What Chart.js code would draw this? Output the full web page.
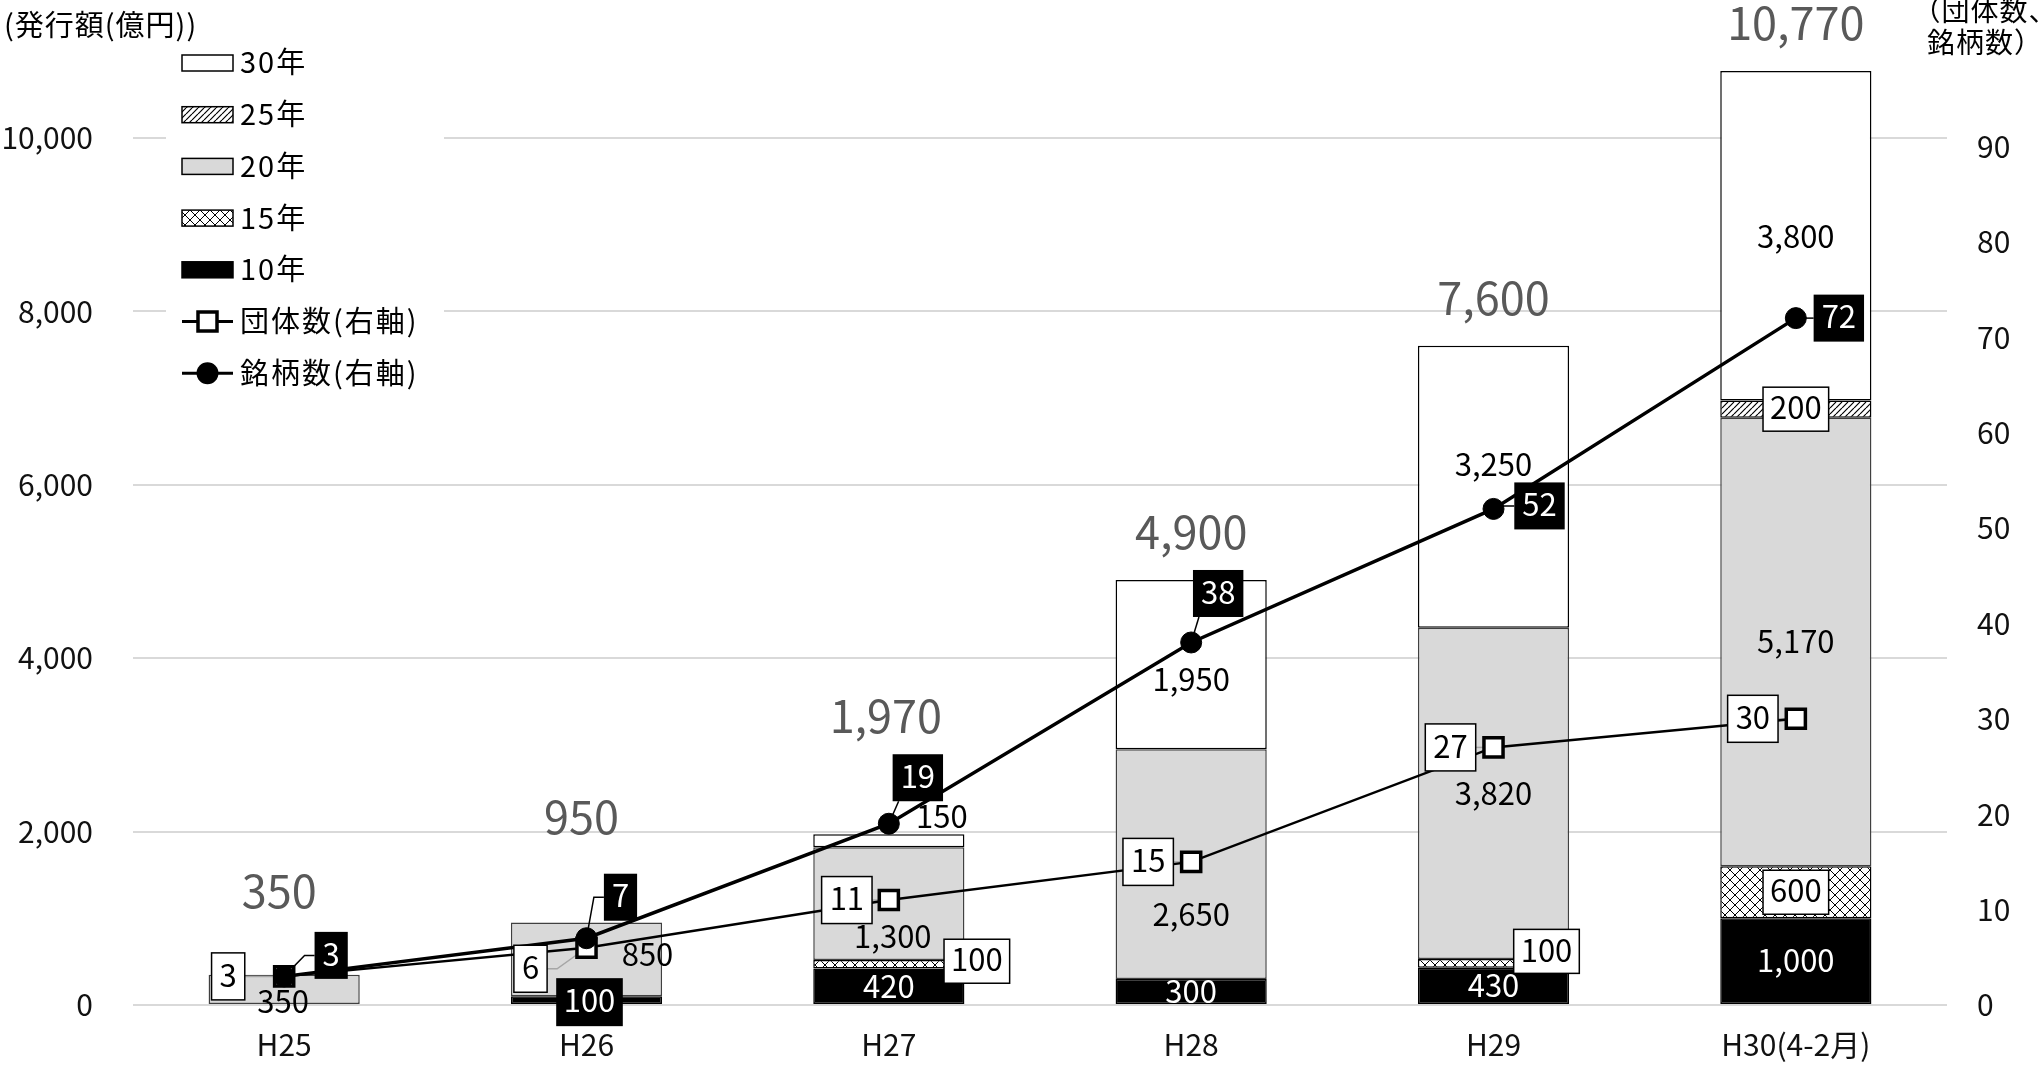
<!DOCTYPE html>
<html lang="ja">
<head>
<meta charset="utf-8">
<title>発行額・団体数・銘柄数の推移</title>
<script src="https://cdn.jsdelivr.net/npm/chart.js@4.4.1/dist/chart.umd.min.js"></script>
<style>
    html, body { margin: 0; padding: 0; background: #fff; }
    #chart { display: block; }
</style>
</head>
<body>
<canvas id="chart" width="2039" height="1065"></canvas>
<script>
const FONT = '"Noto Sans CJK JP", "Noto Sans", sans-serif';

const categories = ["H25", "H26", "H27", "H28", "H29", "H30(4-2月)"];

// 発行額（億円）by maturity
const yen10 = [null, 100, 420, 300, 430, 1000];
const yen15 = [null, null, 100, null, 100, 600];
const yen20 = [350, 850, 1300, 2650, 3820, 5170];
const yen25 = [null, null, null, null, null, 200];
const yen30 = [null, null, 150, 1950, 3250, 3800];

// counts, right axis
const issuerCount = [3, 6, 11, 15, 27, 30];
const issueCount = [3, 7, 19, 38, 52, 72];

const amountTicks = [0, 2000, 4000, 6000, 8000, 10000];
const countTicks = [0, 10, 20, 30, 40, 50, 60, 70, 80, 90];

// label nudges in px: [dx, dy, box]  box: 0 plain, 1 white box, 2 black box
const tags10 = [null, [3, 2, 2], [0, 1, 0], [0, 1, 0], [0, 1, 0], [0, 1, 0]];
const tags15 = [null, null, [88, -3, 1], null, [53, -12, 1], [0, 0, 1]];
const tags20 = [[-1, 13, 0], [61, -4, 0], [4, 34, 0], [0, 52, 0], [0, 1, 0], [0, 1, 0]];
const tags25 = [null, null, null, null, null, [0, 0, 1]];
const tags30 = [null, null, [53, -23, 0], [0, 16, 0], [0, -21, 0], [0, 2, 0]];
const totalTags = [[-5, -81], [-5, -103], [-3, -116], [0, -46], [0, -46], [0, -46]];
const issuerTags = [[-56, 0], [-56, 21], [-42, 0], [-43, 0], [-43, 0], [-43, 0]];
const issueTags = [[47, -21], [34, -41], [29, -46], [27, -49], [46, -3], [43, 0]];

/* ---------- fill patterns ---------- */
function makePattern(size, width, draw){
    const c = document.createElement("canvas");
    c.width = c.height = size;
    const g = c.getContext("2d");
    g.fillStyle = "#fff";
    g.fillRect(0, 0, size, size);
    g.strokeStyle = "#000";
    g.lineWidth = width;
    g.beginPath();
    draw(g, size);
    g.stroke();
    return g.createPattern(c, "repeat");
}

// 25年: thin upward diagonals
const diagonalFill = makePattern(6, 1.2, (g, s) => {
    for (const x0 of [-s, 0, s]) {
        g.moveTo(x0, s);
        g.lineTo(x0 + s, 0);
    }
});

// 15年: diagonal lattice
const latticeFill = makePattern(10, 1, (g, s) => {
    for (const x0 of [-s, 0, s]) {
        g.moveTo(x0, 0);
        g.lineTo(x0 + s, s);
        g.moveTo(x0, s);
        g.lineTo(x0 + s, 0);
    }
});

const barSeries = [
    { label: "10年", data: yen10, fill: "#000", edge: "#000", text: "#fff", tags: tags10 },
    { label: "15年", data: yen15, fill: latticeFill, edge: "#000", text: "#000", tags: tags15 },
    { label: "20年", data: yen20, fill: "#d9d9d9", edge: "#404040", text: "#000", tags: tags20 },
    { label: "25年", data: yen25, fill: diagonalFill, edge: "#000", text: "#000", tags: tags25 },
    { label: "30年", data: yen30, fill: "#fff", edge: "#000", text: "#000", tags: tags30 },
];

const lineSeries = [
    { label: "団体数(右軸)", data: issuerCount, width: 2.5, marker: "square", tags: issuerTags,
      tagFill: "#fff", tagStroke: "#000", tagText: "#000", leader: "#a6a6a6" },
    { label: "銘柄数(右軸)", data: issueCount, width: 3.5, marker: "circle", tags: issueTags,
      tagFill: "#000", tagStroke: null, tagText: "#fff", leader: "#000" },
];

const totals = categories.map((_, i) =>
    barSeries.reduce((sum, s) => sum + (s.data[i] || 0), 0));

const fmt = (v) => v.toLocaleString("en-US");

/* ---------- drawing helpers ---------- */
function drawTag(ctx, text, x, y, size, color, box){
    ctx.font = `${size}px ${FONT}`;
    const w = ctx.measureText(text).width;
    if (box) {
        const bw = w + box.padX * 2;
        ctx.fillStyle = box.fill;
        ctx.fillRect(x - bw / 2, y - box.h / 2, bw, box.h);
        if (box.stroke) {
            ctx.strokeStyle = box.stroke;
            ctx.lineWidth = 1.5;
            ctx.strokeRect(x - bw / 2, y - box.h / 2, bw, box.h);
        }
    }
    ctx.fillStyle = color;
    ctx.textAlign = "center";
    ctx.textBaseline = "alphabetic";
    ctx.fillText(text, x, y + size * 0.33);
}

function tagRect(ctx, text, x, y){
    ctx.font = `31px ${FONT}`;
    const bw = ctx.measureText(text).width + 16;
    return { left: x - bw / 2, right: x + bw / 2, top: y - 23.5, bottom: y + 23.5, cy: y };
}

function drawLegend(ctx){
    ctx.save();
    ctx.fillStyle = "#fff";
    ctx.fillRect(166, 34, 278, 364);

    const rows = [...barSeries].reverse().map((s) => ({ bar: true, s }))
        .concat(lineSeries.map((s) => ({ bar: false, s })));

    rows.forEach((row, i) => {
        const y = 63 + i * 51.7;
        const s = row.s;
        if (row.bar) {
            ctx.fillStyle = s.fill;
            ctx.fillRect(182, y - 8, 51, 16);
            ctx.strokeStyle = "#000";
            ctx.lineWidth = 1.5;
            ctx.strokeRect(182, y - 8, 51, 16);
        } else {
            ctx.strokeStyle = "#000";
            ctx.lineWidth = 3;
            ctx.beginPath();
            ctx.moveTo(182, y);
            ctx.lineTo(233, y);
            ctx.stroke();
            if (s.marker === "square") {
                ctx.fillStyle = "#fff";
                ctx.fillRect(198, y - 9.5, 19, 19);
                ctx.lineWidth = 3.5;
                ctx.strokeRect(198, y - 9.5, 19, 19);
            } else {
                ctx.fillStyle = "#000";
                ctx.beginPath();
                ctx.arc(207.5, y, 11, 0, Math.PI * 2);
                ctx.fill();
            }
        }
        ctx.font = `29px ${FONT}`;
        ctx.letterSpacing = "2px";
        ctx.fillStyle = "#000";
        ctx.textAlign = "left";
        ctx.textBaseline = "alphabetic";
        ctx.fillText(s.label, 240, y + 29 * 0.36);
        ctx.letterSpacing = "0px";
    });
    ctx.restore();
}

function drawLeaders(chart){
    const ctx = chart.ctx;
    ctx.save();
    lineSeries.forEach((s, k) => {
        const meta = chart.getDatasetMeta(barSeries.length + k);
        meta.data.forEach((pt, i) => {
            const [dx, dy] = s.tags[i];
            const r = tagRect(ctx, String(s.data[i]), pt.x + dx, pt.y + dy);
            const toRight = dx > 0;
            const edgeX = toRight ? r.left : r.right;
            const elbowX = toRight ? edgeX - 10 : edgeX + 10;
            ctx.strokeStyle = s.leader;
            ctx.lineWidth = 1.5;
            ctx.beginPath();
            ctx.moveTo(pt.x, pt.y);
            if (toRight ? elbowX < pt.x : elbowX > pt.x) {
                // box sits almost straight above: run to its near corner
                ctx.lineTo(edgeX + (toRight ? 6 : -6), dy < 0 ? r.bottom : r.top);
            } else {
                ctx.lineTo(elbowX, r.cy);
                ctx.lineTo(edgeX, r.cy);
            }
            ctx.stroke();
        });
    });
    ctx.restore();
}

const annotate = {
    id: "annotate",
    beforeDatasetsDraw(chart){
        drawLegend(chart.ctx);
    },
    beforeDatasetDraw(chart, args){
        // leaders go under the line markers
        if (args.index === barSeries.length) drawLeaders(chart);
    },
    afterDatasetsDraw(chart){
        const ctx = chart.ctx;
        ctx.save();

        // segment values
        barSeries.forEach((s, di) => {
            const meta = chart.getDatasetMeta(di);
            meta.data.forEach((bar, i) => {
                const v = s.data[i];
                if (v == null) return;
                const [dx, dy, kind] = s.tags[i];
                const { x, y, base } = bar.getProps(["x", "y", "base"], true);
                let box = null;
                if (kind === 1) box = { fill: "#fff", stroke: "#000", padX: 7, h: 44 };
                if (kind === 2) box = { fill: "#000", stroke: null, padX: 7.5, h: 48 };
                drawTag(ctx, fmt(v), x + dx, (y + base) / 2 + dy, 31, s.text, box);
            });
        });

        // stacked totals
        totals.forEach((t, i) => {
            const x = chart.scales.x.getPixelForValue(i) + totalTags[i][0];
            const y = chart.scales.y.getPixelForValue(t) + totalTags[i][1];
            drawTag(ctx, fmt(t), x, y, 45, "#595959", null);
        });

        // count labels
        lineSeries.forEach((s, k) => {
            const meta = chart.getDatasetMeta(barSeries.length + k);
            meta.data.forEach((pt, i) => {
                const [dx, dy] = s.tags[i];
                drawTag(ctx, String(s.data[i]), pt.x + dx, pt.y + dy, 31, s.tagText,
                    { fill: s.tagFill, stroke: s.tagStroke, padX: 8, h: 47 });
            });
        });

        ctx.restore();
    },
    afterDraw(chart){
        const ctx = chart.ctx;
        ctx.save();
        ctx.fillStyle = "#000";
        ctx.textBaseline = "alphabetic";
        ctx.font = `29px ${FONT}`;
        ctx.letterSpacing = "1px";
        ctx.textAlign = "left";
        ctx.fillText("(発行額(億円))", 4, 26 + 29 * 0.36);
        ctx.font = `28px ${FONT}`;
        ctx.letterSpacing = "1px";
        ctx.textAlign = "center";
        ctx.fillText("（団体数、", 1985, 11 + 28 * 0.36);
        ctx.fillText("銘柄数）", 1985, 43 + 28 * 0.36);
        ctx.restore();
    },
};

// fixed axis widths; tick padding must not push the plot area down
function fixWidth(w){
    return (s) => {
        s.width = w;
        s.paddingTop = 0;
        s.paddingBottom = 0;
    };
}

/* ---------- chart ---------- */
Chart.defaults.font.family = FONT;
Chart.defaults.color = "#111";

const datasets = barSeries.map((s) => ({
    type: "bar",
    label: s.label,
    data: s.data,
    yAxisID: "y",
    backgroundColor: s.fill,
    borderColor: s.edge,
    borderWidth: 1.5,
    borderSkipped: false,
    barPercentage: 0.5,
    categoryPercentage: 1,
    order: 2,
})).concat(lineSeries.map((s, k) => ({
    type: "line",
    label: s.label,
    data: s.data,
    yAxisID: "y1",
    borderColor: "#000",
    borderWidth: s.width,
    tension: 0,
    pointStyle: s.marker === "square" ? "rect" : "circle",
    pointRadius: s.marker === "square" ? 13.5 : 10.5,
    pointBackgroundColor: s.marker === "square" ? "#fff" : "#000",
    pointBorderColor: "#000",
    pointBorderWidth: s.marker === "square" ? 3.5 : 1,
    order: 1 - k,
})));

new Chart(document.getElementById("chart"), {
    data: { labels: categories, datasets },
    plugins: [annotate],
    options: {
        responsive: false,
        devicePixelRatio: 1,
        animation: false,
        events: [],
        layout: { padding: { top: 51, left: 0, right: 0, bottom: 0 } },
        plugins: {
            legend: { display: false },
            tooltip: { enabled: false },
        },
        scales: {
            x: {
                stacked: true,
                grid: { display: false, drawTicks: false },
                border: { display: false },
                ticks: { font: { size: 30 }, padding: 22, maxRotation: 0, autoSkip: false },
                afterFit: (s) => { s.height = 60; },
            },
            y: {
                stacked: true,
                position: "left",
                min: 0,
                max: 11000,
                afterBuildTicks: (s) => { s.ticks = amountTicks.map((v) => ({ value: v })); },
                grid: { color: "#d9d9d9", lineWidth: 2, drawTicks: false },
                border: { display: false },
                ticks: { font: { size: 30 }, padding: 40, callback: (v) => fmt(v) },
                afterFit: fixWidth(133),
            },
            y1: {
                position: "right",
                min: 0,
                max: 100,
                afterBuildTicks: (s) => { s.ticks = countTicks.map((v) => ({ value: v })); },
                grid: { display: false, drawTicks: false },
                border: { display: false },
                ticks: { font: { size: 30 }, padding: 30 },
                afterFit: fixWidth(92),
            },
        },
    },
});
</script>
</body>
</html>
